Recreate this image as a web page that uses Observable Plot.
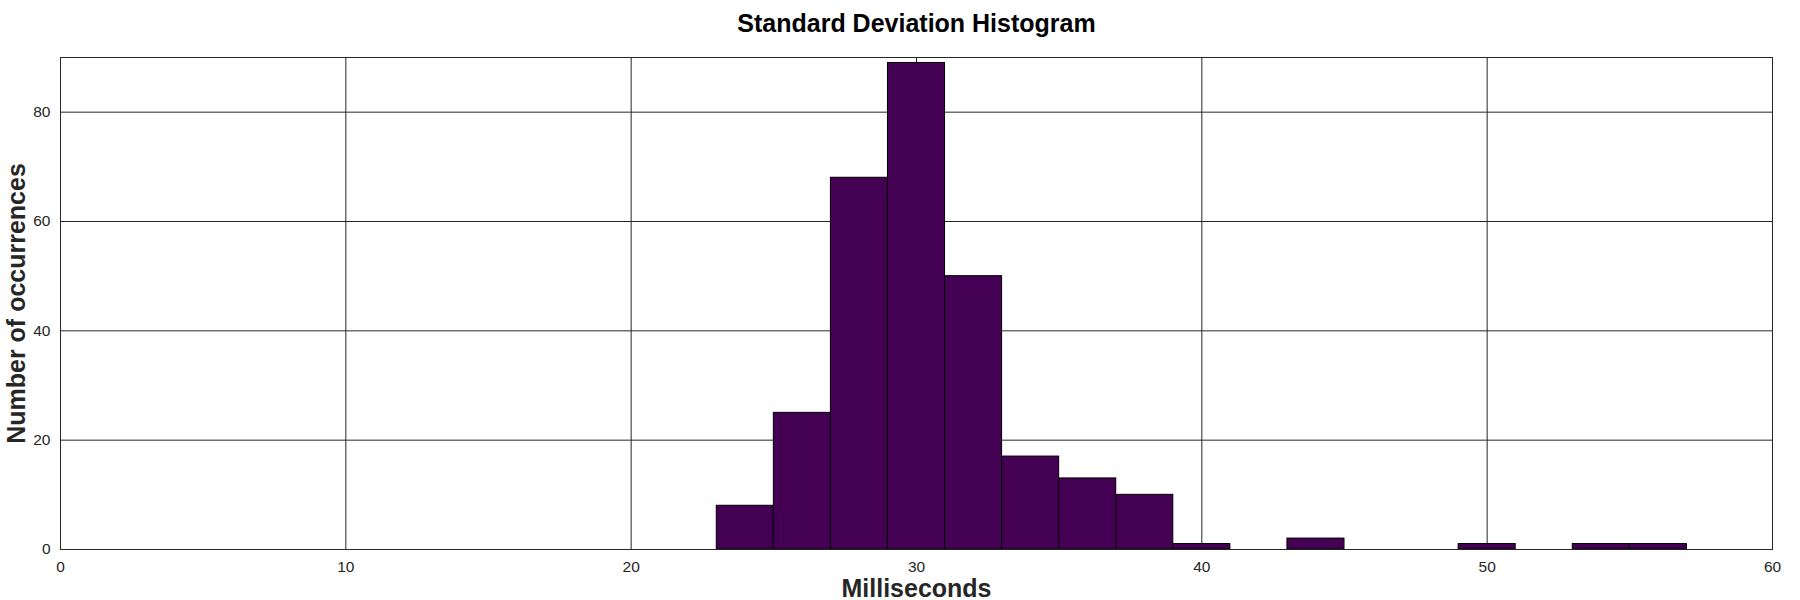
<!DOCTYPE html>
<html>
<head>
<meta charset="utf-8">
<script src="https://cdn.jsdelivr.net/npm/d3@7"></script>
<script src="https://cdn.jsdelivr.net/npm/@observablehq/plot@0.6"></script>
<style>
  html, body { margin: 0; padding: 0; background: #fff; }
</style>
</head>
<body>
<div id="chart"></div>
<script>
// Histogram bins (milliseconds) and counts
const binStart = [23, 25, 27, 29, 31, 33, 35, 37, 39, 41, 43, 45, 47, 49, 51, 53, 55];
const binEnd   = [25, 27, 29, 31, 33, 35, 37, 39, 41, 43, 45, 47, 49, 51, 53, 55, 57];
const counts   = [8, 25, 68, 89, 50, 17, 13, 10, 1, 0, 2, 0, 0, 1, 0, 1, 1];

const xTicks = [0, 10, 20, 30, 40, 50, 60];
const yTicks = [0, 20, 40, 60, 80];

const titleText = "Standard Deviation Histogram";
const xLabel = "Milliseconds";
const yLabel = "Number of occurrences";

const bins = binStart.map((s, i) => ({x1: s, x2: binEnd[i], count: counts[i]})).filter(d => d.count > 0);

const chart = Plot.plot({
  width: 1800,
  height: 600,
  marginLeft: 60,
  marginRight: 28,
  marginTop: 57,
  marginBottom: 51,
  style: {fontFamily: "'Liberation Sans', Arial, sans-serif", background: "#fff"},
  x: {domain: [0, 60], axis: null},
  y: {domain: [0, 90], axis: null},
  marks: [
    Plot.gridX(xTicks, {stroke: "#262626", strokeOpacity: 1, strokeWidth: 1}),
    Plot.gridY(yTicks, {stroke: "#262626", strokeOpacity: 1, strokeWidth: 1}),
    Plot.rectY(bins, {x1: "x1", x2: "x2", y: "count", fill: "#440154", stroke: "#000", strokeWidth: 1}),
    Plot.frame({stroke: "#262626", strokeWidth: 1}),
    Plot.text(xTicks, {x: d => d, frameAnchor: "bottom", lineAnchor: "top", dy: 11, text: d => String(d), fontSize: 15.5, fill: "#262626"}),
    Plot.text(yTicks, {y: d => d, frameAnchor: "left", textAnchor: "end", dx: -10, text: d => String(d), fontSize: 15.5, fill: "#262626"}),
    Plot.text([titleText], {frameAnchor: "top", dy: -34, text: d => d, fontSize: 25, fontWeight: "bold", fill: "#000", lineAnchor: "middle"}),
    Plot.text([xLabel], {frameAnchor: "bottom", dy: 39, text: d => d, fontSize: 25, fontWeight: "bold", fill: "#262626", lineAnchor: "middle"}),
    Plot.text([yLabel], {frameAnchor: "left", dx: -44, rotate: -90, textAnchor: "middle", text: d => d, fontSize: 25, fontWeight: "bold", fill: "#262626", lineAnchor: "middle"})
  ]
});
document.getElementById("chart").appendChild(chart);
</script>
</body>
</html>
